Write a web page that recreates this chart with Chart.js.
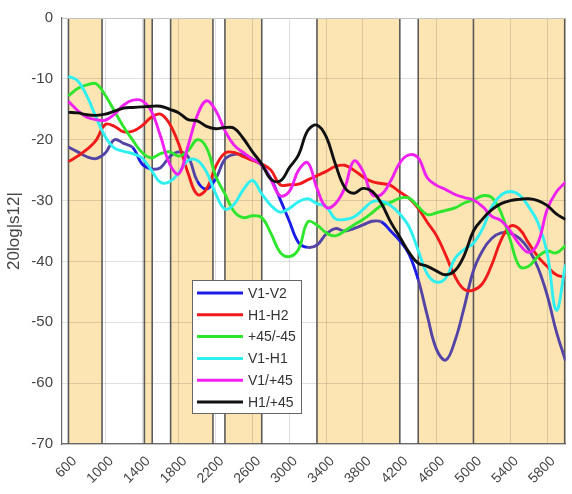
<!DOCTYPE html>
<html>
<head>
<meta charset="utf-8">
<script src="https://cdn.jsdelivr.net/npm/chart.js@4/dist/chart.umd.min.js"></script>
<style>
  html, body { margin: 0; padding: 0; background: #fff; }
  #wrap { width: 572px; height: 494px; }
</style>
</head>
<body>
<div id="wrap"><canvas id="c" width="572" height="494"></canvas></div>
<script>
// Frequency grid (MHz)
const freqs = [600, 700, 800, 900, 1000, 1100, 1200, 1300, 1400, 1500,
               1600, 1700, 1800, 1900, 2000, 2100, 2200, 2300, 2400, 2500,
               2600, 2700, 2800, 2900, 3000, 3100, 3200, 3300, 3400, 3500,
               3600, 3700, 3800, 3900, 4000, 4100, 4200, 4300, 4400, 4500,
               4600, 4700, 4800, 4900, 5000, 5100, 5200, 5300, 5400, 5500,
               5600, 5700, 5800, 5900, 6000];

// Coupling 20log|s12| (dB) for each port pair
const v1v2 = [-21.2, -22.0, -22.8, -23.1, -22.2, -20.0, -20.6, -21.3, -24.0, -24.8,
              -24.6, -22.8, -22.0, -22.8, -26.8, -28.1, -26.4, -23.2, -22.4, -22.5,
              -23.2, -24.2, -26.4, -29.8, -33.4, -36.9, -37.7, -37.3, -35.5, -34.6,
              -35.0, -34.6, -34.0, -33.4, -33.5, -35.0, -36.6, -38.8, -43.0, -49.0,
              -54.5, -56.2, -53.0, -47.5, -41.5, -38.2, -36.2, -35.3, -35.4, -36.2,
              -38.0, -41.0, -45.5, -51.5, -56.3];
const h1h2 = [-23.6, -22.7, -21.6, -20.1, -17.5, -17.8, -18.7, -18.6, -17.7, -16.3,
              -15.8, -17.4, -20.8, -25.5, -29.0, -28.1, -24.4, -22.2, -22.1, -22.8,
              -23.4, -24.0, -25.0, -27.4, -27.4, -27.3, -26.6, -25.9, -25.2, -24.4,
              -24.2, -25.0, -26.1, -26.9, -27.2, -27.5, -28.6, -29.6, -31.3, -33.6,
              -35.8, -39.0, -42.5, -44.6, -44.7, -43.6, -40.5, -36.5, -34.2, -34.7,
              -37.0, -39.2, -40.8, -42.2, -42.6];
const p45m45 = [-12.8, -11.6, -11.0, -10.8, -12.7, -15.3, -17.9, -20.1, -22.1, -23.0,
                -22.3, -22.0, -22.7, -21.8, -20.0, -21.3, -26.0, -28.9, -31.8, -32.8,
                -32.5, -32.8, -35.4, -38.5, -39.2, -38.0, -33.5, -34.0, -35.3, -35.8,
                -35.0, -34.0, -33.1, -32.0, -30.8, -30.3, -29.6, -29.6, -31.0, -32.3,
                -32.0, -31.6, -31.2, -30.4, -29.9, -29.2, -29.5, -32.0, -36.5, -40.8,
                -40.8, -39.2, -38.3, -38.6, -37.4];
const v1h1 = [-9.6, -10.3, -12.8, -16.3, -19.5, -21.4, -21.9, -22.3, -23.0, -25.0,
              -27.0, -26.9, -25.4, -23.4, -23.4, -25.3, -28.9, -31.4, -30.6, -28.2,
              -26.7, -28.9, -30.8, -31.9, -31.3, -30.2, -29.7, -30.5, -31.0, -33.0,
              -33.1, -32.7, -31.5, -30.2, -30.1, -30.8, -32.2, -34.3, -38.2, -42.1,
              -43.4, -42.7, -39.5, -38.0, -37.0, -34.6, -31.0, -29.1, -28.5, -29.1,
              -31.0, -33.6, -38.5, -48.0, -40.5];
const v1p45 = [-13.7, -15.2, -16.3, -16.7, -16.8, -15.8, -14.3, -13.5, -13.6, -15.3,
               -19.4, -24.0, -25.6, -21.0, -16.0, -13.6, -15.2, -18.5, -20.9, -22.1,
               -23.2, -24.1, -26.6, -29.2, -28.5, -25.0, -23.8, -28.0, -31.1, -30.5,
               -28.0, -23.5, -25.2, -29.0, -29.0, -26.8, -23.8, -22.5, -23.0, -26.3,
               -27.5, -28.2, -29.0, -29.5, -29.9, -31.0, -32.6, -33.3, -35.0, -37.2,
               -38.5, -37.0, -31.5, -28.6, -27.0];
const h1p45 = [-15.5, -15.6, -15.9, -16.0, -15.8, -15.3, -14.8, -14.7, -14.6, -14.5,
               -14.5, -15.0, -15.6, -16.7, -16.9, -17.8, -18.2, -18.0, -18.1, -19.8,
               -22.0, -24.0, -26.5, -26.8, -24.6, -22.5, -18.5, -17.6, -19.5, -24.0,
               -27.8, -28.8, -28.0, -28.5, -30.5, -33.5, -36.0, -38.5, -40.3, -40.8,
               -41.6, -42.2, -41.5, -39.0, -35.0, -33.0, -31.5, -30.5, -30.0, -29.8,
               -29.7, -30.0, -30.8, -32.2, -33.1];

const seriesNames = ['V1-V2', 'H1-H2', '+45/-45', 'V1-H1', 'V1/+45', 'H1/+45'];

// Operating bands (MHz) and their edges
const bandStarts = [600, 1425, 1710, 2300, 3300, 4400];
const bandEnds   = [965, 1510, 2170, 2700, 4200, 6000];
const bandEdges  = [600, 965, 1425, 1510, 1710, 2170, 2300, 2700, 3300, 4200, 4400, 5000, 6000];

const xTicks = [600, 1000, 1400, 1800, 2200, 2600, 3000, 3400, 3800, 4200, 4600, 5000, 5400, 5800];

// Styling
const BAND_FILL = '#fce4b3';
const BAND_EDGE = '#5a5a5a';
const SLATE = '#5444a6';
const BRIGHT_BLUE = '#1b1de6';
const blueStretches = [[1270, 1510], [2000, 2190], [2460, 3170], [3990, 4400]];
const colors = [BRIGHT_BLUE, '#f01a1a', '#2ee62e', '#2ef0f0', '#f021f0', '#111111'];
const FONT = '"Liberation Sans", Arial, sans-serif';

const inBright = x => blueStretches.some(([a, b]) => x >= a && x < b);
const toPoints = vals => freqs.map((f, i) => ({ x: f, y: vals[i] }));
const allSeries = [v1v2, h1h2, p45m45, v1h1, v1p45, h1p45];

const datasets = allSeries.map((vals, i) => {
  const ds = {
    label: seriesNames[i],
    data: toPoints(vals),
    borderColor: colors[i],
    borderWidth: 2.9,
    pointRadius: 0,
    tension: 0.4,
    fill: false,
    order: allSeries.length - 1 - i
  };
  if (i === 0) {
    ds.borderColor = SLATE;
    ds.segment = {
      borderColor: c => inBright((c.p0.parsed.x + c.p1.parsed.x) / 2) ? BRIGHT_BLUE : SLATE
    };
  }
  return ds;
});

const bandsPlugin = {
  id: 'bands',
  beforeDraw(chart) {
    const { ctx, chartArea: a, scales: { x } } = chart;
    ctx.save();
    ctx.fillStyle = '#ffffff';
    ctx.fillRect(a.left, a.top, a.right - a.left, a.bottom - a.top);
    ctx.fillStyle = BAND_FILL;
    bandStarts.forEach((s, i) => {
      const x0 = x.getPixelForValue(s);
      const x1 = x.getPixelForValue(bandEnds[i]);
      ctx.fillRect(x0, a.top, x1 - x0, a.bottom - a.top);
    });
    ctx.restore();
  },
  beforeDatasetsDraw(chart) {
    const { ctx, chartArea: a, scales: { x } } = chart;
    ctx.save();
    ctx.strokeStyle = BAND_EDGE;
    ctx.lineWidth = 1.6;
    bandEdges.forEach(e => {
      const px = Math.min(x.getPixelForValue(e), a.right - 0.8);
      ctx.beginPath();
      ctx.moveTo(px, a.top);
      ctx.lineTo(px, a.bottom);
      ctx.stroke();
    });
    // box: top edge
    ctx.strokeStyle = '#c4c4c4';
    ctx.lineWidth = 1;
    ctx.beginPath();
    ctx.moveTo(a.left, a.top + 0.5);
    ctx.lineTo(a.right, a.top + 0.5);
    ctx.stroke();
    ctx.restore();
  }
};

const legendPlugin = {
  id: 'boxLegend',
  afterDraw(chart) {
    const { ctx } = chart;
    const left = 192, top = 280, w = 109, h = 133;
    ctx.save();
    ctx.fillStyle = '#ffffff';
    ctx.fillRect(left, top, w, h);
    ctx.strokeStyle = '#666';
    ctx.lineWidth = 1;
    ctx.strokeRect(left + 0.5, top + 0.5, w, h);
    ctx.font = '14px ' + FONT;
    ctx.textBaseline = 'middle';
    ctx.textAlign = 'left';
    seriesNames.forEach((name, i) => {
      const y = top + 13 + i * 21.8;
      ctx.strokeStyle = colors[i];
      ctx.lineWidth = 3;
      ctx.beginPath();
      ctx.moveTo(left + 5, y);
      ctx.lineTo(left + 51, y);
      ctx.stroke();
      ctx.fillStyle = '#333';
      ctx.fillText(name, left + 56, y + 1);
    });
    ctx.restore();
  }
};

new Chart(document.getElementById('c'), {
  type: 'line',
  data: { datasets },
  plugins: [bandsPlugin, legendPlugin],
  options: {
    responsive: false,
    animation: false,
    devicePixelRatio: 1,
    layout: { padding: { left: 0, top: 12, right: 6.5, bottom: 0 } },
    plugins: { legend: { display: false }, tooltip: { enabled: false } },
    scales: {
      x: {
        type: 'linear',
        min: 530,
        max: 6000,
        afterBuildTicks: s => { s.ticks = xTicks.map(v => ({ value: v })); },
        afterFit: s => { s.height = 50; },
        grid: { color: 'rgba(0,0,0,0.12)', lineWidth: 1, drawTicks: false },
        border: { display: true, color: '#6a6a6a', width: 1.2 },
        ticks: {
          autoSkip: false,
          minRotation: 45,
          maxRotation: 45,
          padding: 9,
          labelOffset: 6,
          color: '#444',
          font: { family: FONT, size: 14 },
          callback: v => String(v)
        }
      },
      y: {
        min: -70,
        max: 0,
        afterFit: s => { s.width = 62; },
        grid: { color: 'rgba(0,0,0,0.12)', lineWidth: 1, drawTicks: false },
        border: { display: true, color: '#6a6a6a', width: 1.2 },
        ticks: {
          stepSize: 10,
          padding: 9,
          color: '#444',
          font: { family: FONT, size: 15 }
        },
        title: {
          display: true,
          text: '20log|s12|',
          color: '#444',
          padding: { top: 4, bottom: 0 },
          font: { family: FONT, size: 17 }
        }
      }
    }
  }
});
</script>
</body>
</html>
